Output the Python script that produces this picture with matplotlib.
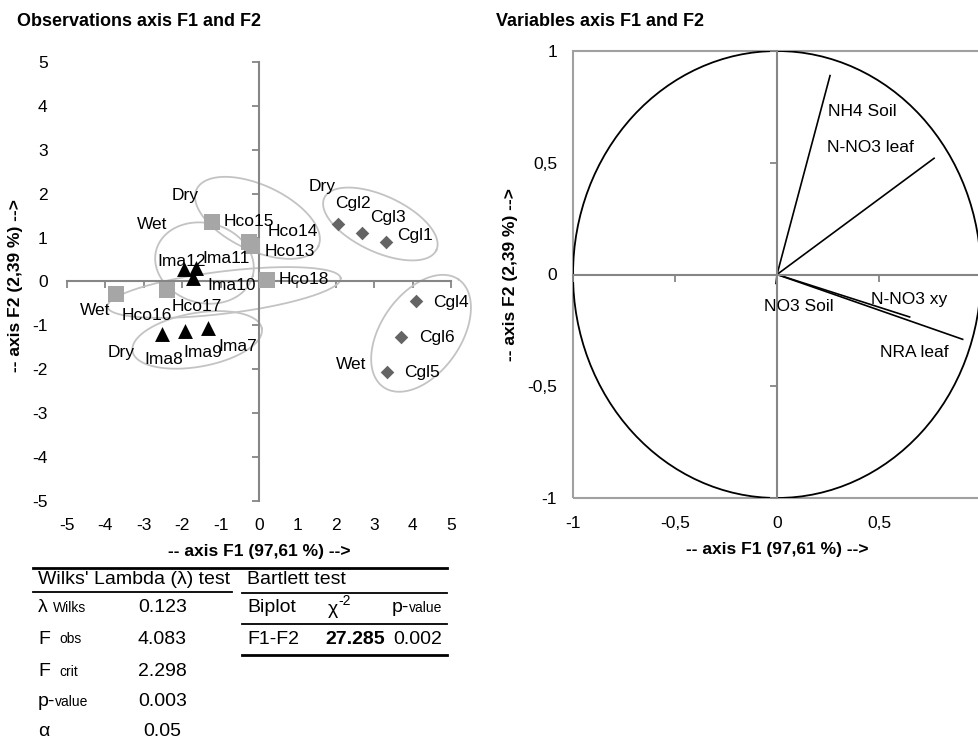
import numpy as np
import matplotlib.pyplot as plt
from matplotlib.lines import Line2D
from matplotlib.patches import Ellipse, Rectangle

plt.rcParams['font.family'] = ['Liberation Sans', 'DejaVu Sans']

# observations (discriminant scores)
cgl_names = ["Cgl1", "Cgl2", "Cgl3", "Cgl4", "Cgl5", "Cgl6"]
cgl_x = [3.32, 2.07, 2.68, 4.08, 3.34, 3.70]
cgl_y = [0.90, 1.30, 1.11, -0.45, -2.07, -1.26]

hco_names = ["Hco13", "Hco14", "Hco15", "Hco16", "Hco17", "Hco18"]
hco_x = [-0.18, -0.25, -1.23, -3.73, -2.40, 0.20]
hco_y = [0.82, 0.90, 1.36, -0.29, -0.20, 0.04]

ima_names = ["Ima7", "Ima8", "Ima9", "Ima10", "Ima11", "Ima12"]
ima_x = [-1.33, -2.52, -1.94, -1.72, -1.65, -1.96]
ima_y = [-1.05, -1.20, -1.12, 0.09, 0.31, 0.28]

# label offsets (pixels right, pixels down)
cgl_offsets = [(11, -6), (-3, -21), (8, -15), (17, 1), (17, 0), (18, 1)]
hco_offsets = [(13, 6), (18, -10), (12, 0), (6, 21), (5, 16), (12, 0)]
ima_offsets = [(10, 19), (-18, 25), (-1, 22), (14, 8), (7, -9), (-26, -8)]

# season tags
season_text = ["Dry", "Wet", "Wet", "Dry", "Dry", "Wet"]
season_x = [-2.27, -3.19, -4.67, -3.95, 1.28, 2.0]
season_y = [1.97, 1.30, -0.67, -1.61, 2.16, -1.88]

# group ellipses: centre x, centre y, semi axes (x units), angle on screen
ell_cx = [-0.04, -1.42, -0.91, -1.61, 3.16, 4.22]
ell_cy = [1.45, 0.42, -0.25, -1.33, 1.31, -1.18]
ell_a = [1.75, 1.30, 3.06, 1.71, 1.61, 1.71]
ell_b = [0.85, 1.04, 0.55, 0.70, 0.73, 1.04]
ell_ang = [-25, -15, 7, 10, -25, 55]

# variables (correlation circle)
var_names = ["NH4 Soil", "N-NO3 leaf", "N-NO3 xy", "NRA leaf", "NO3 Soil"]
var_x = [0.26, 0.77, 0.65, 0.91, -0.005]
var_y = [0.89, 0.52, -0.19, -0.29, -0.04]
var_lab_x = [0.25, 0.245, 0.46, 0.505, -0.064]
var_lab_y = [0.73, 0.57, -0.11, -0.35, -0.143]

obs_ticks = list(range(-5, 6))
var_ticks = [-1, -0.5, 0, 0.5, 1]
var_tick_labels = ["-1", "-0,5", "0", "0,5", "1"]
var_xtick_labels = ["-1", "-0,5", "0", "0,5", ""]

# tables
wilks_names = ["λ", "F", "F", "p-", "α"]
wilks_subs = ["Wilks", "obs", "crit", "value", ""]
wilks_vals = ["0.123", "4.083", "2.298", "0.003", "0.05"]
bartlett_row = ["F1-F2", "27.285", "0.002"]

W, H = 979, 742
GREY = '#868686'
FS = 12.5

fig = plt.figure(figsize=(W / 100, H / 100), dpi=100)


def fx(px):
    return px / W


def fy(py):
    return 1 - py / H


def rect(l, t, r, b):
    return [fx(l), fy(b), (r - l) / W, (b - t) / H]


# ---------------- observations ----------------
ax = fig.add_axes(rect(67, 62, 451, 501))
ax.set_xlim(-5, 5)
ax.set_ylim(-5, 5)
for s in ['top', 'right']:
    ax.spines[s].set_visible(False)
for s in ['left', 'bottom']:
    ax.spines[s].set_position(('data', 0))
    ax.spines[s].set_color(GREY)
    ax.spines[s].set_linewidth(1.5)
ax.set_xticks(obs_ticks)
ax.set_yticks(obs_ticks)
ax.tick_params(labelleft=False, labelbottom=False, length=5, width=1.3, color=GREY)

secx = ax.secondary_xaxis('bottom')
secx.set_xticks(obs_ticks, [str(t) for t in obs_ticks])
secy = ax.secondary_yaxis('left')
secy.set_yticks(obs_ticks, [str(t) for t in obs_ticks])
for sec, p in [(secx, 12), (secy, 14)]:
    for sp in sec.spines.values():
        sp.set_visible(False)
    sec.tick_params(length=0, pad=p, labelsize=FS)

ax.set_xlabel("-- axis F1 (97,61 %) -->", fontsize=FS, fontweight='bold', va='center')
ax.xaxis.set_label_coords(0.5, -0.114)
ax.set_ylabel("-- axis F2 (2,39 %) -->", fontsize=FS, fontweight='bold', va='center', ha='center')
ax.yaxis.set_label_coords(-0.135, 0.49)

# ellipses, drawn in screen proportions
bb = ax.get_position()
kx = bb.width * W / 10
ky = bb.height * H / 10
t = np.linspace(0, 2 * np.pi, 200)
for cx, cy, a, b, ang in zip(ell_cx, ell_cy, ell_a, ell_b, ell_ang):
    phi = np.radians(ang)
    dx = a * np.cos(t) * np.cos(phi) - b * np.sin(t) * np.sin(phi)
    dy = a * np.cos(t) * np.sin(phi) + b * np.sin(t) * np.cos(phi)
    ax.plot(cx + dx, cy + dy * kx / ky, color='#C3C3C3', lw=1.3, clip_on=False, zorder=2)

ax.scatter(cgl_x, cgl_y, marker='D', s=48, color='#646464', zorder=4, linewidths=0)
ax.scatter(hco_x, hco_y, marker='s', s=120, color='#A6A6A6', zorder=4, linewidths=0)
ax.scatter(ima_x, ima_y, marker='^', s=115, color='black', zorder=5, linewidths=0)

for names, xs, ys, offs in [(cgl_names, cgl_x, cgl_y, cgl_offsets),
                            (hco_names, hco_x, hco_y, hco_offsets),
                            (ima_names, ima_x, ima_y, ima_offsets)]:
    for n, x, y, (ox, oy) in zip(names, xs, ys, offs):
        ax.annotate(n, (x, y), xytext=(ox * 0.72, -oy * 0.72), textcoords='offset points',
                    ha='left', va='center', fontsize=FS, zorder=6)

for s, x, y in zip(season_text, season_x, season_y):
    ax.text(x, y, s, ha='left', va='center', fontsize=FS)

# ---------------- variables ----------------
bx = fig.add_axes(rect(573, 51, 981, 498))
bx.set_xlim(-1, 1)
bx.set_ylim(-1, 1)
for s in ['top', 'right']:
    bx.spines[s].set_visible(False)
for s in ['left', 'bottom']:
    bx.spines[s].set_position(('data', 0))
    bx.spines[s].set_color(GREY)
    bx.spines[s].set_linewidth(1.5)
bx.add_patch(Rectangle((0, 0), 1, 1, transform=bx.transAxes, fill=False,
                       ec='#A0A0A0', lw=1.5, clip_on=False))
bx.set_xticks(var_ticks)
bx.set_yticks(var_ticks)
bx.tick_params(labelleft=False, labelbottom=False, length=5, width=1.3, color=GREY)

secx2 = bx.secondary_xaxis('bottom')
secx2.set_xticks(var_ticks, var_xtick_labels)
secy2 = bx.secondary_yaxis('left')
secy2.set_yticks(var_ticks, var_tick_labels)
for sec, p in [(secx2, 13), (secy2, 11.5)]:
    for sp in sec.spines.values():
        sp.set_visible(False)
    sec.tick_params(length=0, pad=p, labelsize=FS)

bx.set_xlabel("-- axis F1 (97,61 %) -->", fontsize=FS, fontweight='bold', va='center')
bx.xaxis.set_label_coords(0.5, -0.116)
bx.set_ylabel("-- axis F2 (2,39 %) -->", fontsize=FS, fontweight='bold', va='center', ha='center')
bx.yaxis.set_label_coords(-0.154, 0.5)

bx.add_patch(Ellipse((0, 0), 2, 2, fill=False, ec='black', lw=1.3))
for x, y in zip(var_x, var_y):
    bx.plot([0, x], [0, y], color='black', lw=1.2)
for n, x, y in zip(var_names, var_lab_x, var_lab_y):
    bx.text(x, y, n, ha='left', va='center', fontsize=FS)

# ---------------- titles ----------------
fig.text(fx(17), fy(21), "Observations axis F1 and F2", fontsize=13, fontweight='bold', va='center')
fig.text(fx(496), fy(21), "Variables axis F1 and F2", fontsize=13, fontweight='bold', va='center')

# ---------------- tables ----------------
TFS = 14


def hline(y, x0, x1, lw):
    fig.add_artist(Line2D([fx(x0), fx(x1)], [fy(y), fy(y)], transform=fig.transFigure,
                          color='black', lw=lw))


hline(568, 33, 447, 2.0)
hline(592, 33, 232, 1.3)
hline(593, 242, 447, 1.3)
hline(624, 242, 447, 1.3)
hline(655, 242, 447, 2.0)

fig.text(fx(38), fy(580), "Wilks' Lambda (λ) test", fontsize=TFS, va='center')
fig.text(fx(247), fy(580), "Bartlett test", fontsize=TFS, va='center')

row_y = [608, 639, 672, 702, 732]
sub_gap = [5, 9, 9, 0, 0]
for name, sub, val, y, g in zip(wilks_names, wilks_subs, wilks_vals, row_y, sub_gap):
    tx = fig.text(fx(38), fy(y), name, fontsize=TFS, va='center')
    if sub:
        plt.annotate(sub, xy=(1, 0), xycoords=tx, xytext=(g * 0.72, 1),
                     textcoords='offset points', fontsize=10, ha='left', va='bottom')
    fig.text(fx(138 if val != "0.05" else 143), fy(y), val, fontsize=TFS, va='center')

fig.text(fx(247), fy(608), "Biplot", fontsize=TFS, va='center')
chi = fig.text(fx(328), fy(610), "χ", fontsize=TFS, va='center')
plt.annotate("-2", xy=(1, 1), xycoords=chi, xytext=(0, -5), textcoords='offset points',
             fontsize=10, ha='left', va='bottom')
pv = fig.text(fx(392), fy(608), "p-", fontsize=TFS, va='center')
plt.annotate("value", xy=(1, 0), xycoords=pv, xytext=(0, 1), textcoords='offset points',
             fontsize=10, ha='left', va='bottom')

fig.text(fx(247), fy(639), bartlett_row[0], fontsize=TFS, va='center')
fig.text(fx(325), fy(639), bartlett_row[1], fontsize=TFS, va='center', fontweight='bold')
fig.text(fx(393), fy(639), bartlett_row[2], fontsize=TFS, va='center')

fig.savefig("out.png", dpi=100)
